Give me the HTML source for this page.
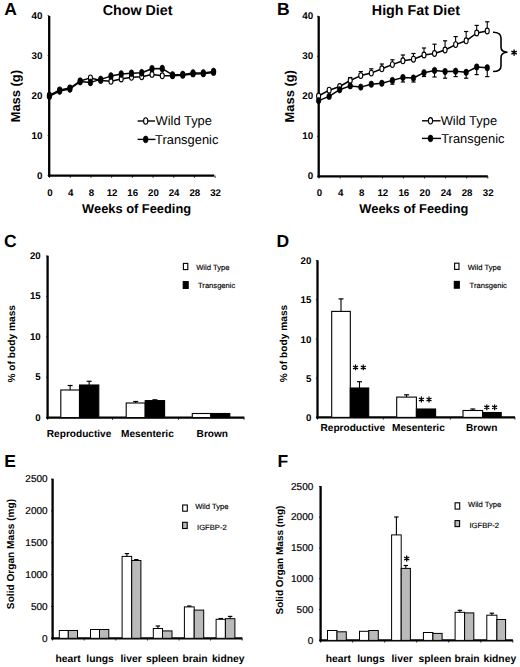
<!DOCTYPE html>
<html><head><meta charset="utf-8"><style>
html,body{margin:0;padding:0;background:#fff;width:520px;height:667px;overflow:hidden}
svg{display:block}
text{font-family:"Liberation Sans",sans-serif;fill:#000;text-rendering:geometricPrecision}
</style></head><body>
<svg width="520" height="667" viewBox="0 0 520 667">
<rect width="520" height="667" fill="#fff"/>
<line x1="49.20" y1="16.00" x2="49.20" y2="176.70" stroke="#000" stroke-width="2.3"/>
<line x1="48.10" y1="175.60" x2="214.30" y2="175.60" stroke="#000" stroke-width="2.3"/>
<line x1="47.60" y1="175.60" x2="49.20" y2="175.60" stroke="#000" stroke-width="0.8"/>
<text x="42.40" y="179.00" font-size="9.8" font-weight="bold" text-anchor="end" >0</text>
<line x1="47.60" y1="135.60" x2="49.20" y2="135.60" stroke="#000" stroke-width="0.8"/>
<text x="42.40" y="139.00" font-size="9.8" font-weight="bold" text-anchor="end" >10</text>
<line x1="47.60" y1="95.60" x2="49.20" y2="95.60" stroke="#000" stroke-width="0.8"/>
<text x="42.40" y="99.00" font-size="9.8" font-weight="bold" text-anchor="end" >20</text>
<line x1="47.60" y1="55.60" x2="49.20" y2="55.60" stroke="#000" stroke-width="0.8"/>
<text x="42.40" y="59.00" font-size="9.8" font-weight="bold" text-anchor="end" >30</text>
<line x1="47.60" y1="15.60" x2="49.20" y2="15.60" stroke="#000" stroke-width="0.8"/>
<text x="42.40" y="19.00" font-size="9.8" font-weight="bold" text-anchor="end" >40</text>
<line x1="49.60" y1="175.60" x2="49.60" y2="177.80" stroke="#000" stroke-width="0.8"/>
<text x="50.00" y="195.90" font-size="9.7" font-weight="bold" text-anchor="middle" >0</text>
<line x1="70.29" y1="175.60" x2="70.29" y2="177.80" stroke="#000" stroke-width="0.8"/>
<text x="70.69" y="195.90" font-size="9.7" font-weight="bold" text-anchor="middle" >4</text>
<line x1="90.98" y1="175.60" x2="90.98" y2="177.80" stroke="#000" stroke-width="0.8"/>
<text x="91.38" y="195.90" font-size="9.7" font-weight="bold" text-anchor="middle" >8</text>
<line x1="111.67" y1="175.60" x2="111.67" y2="177.80" stroke="#000" stroke-width="0.8"/>
<text x="112.07" y="195.90" font-size="9.7" font-weight="bold" text-anchor="middle" >12</text>
<line x1="132.36" y1="175.60" x2="132.36" y2="177.80" stroke="#000" stroke-width="0.8"/>
<text x="132.76" y="195.90" font-size="9.7" font-weight="bold" text-anchor="middle" >16</text>
<line x1="153.05" y1="175.60" x2="153.05" y2="177.80" stroke="#000" stroke-width="0.8"/>
<text x="153.45" y="195.90" font-size="9.7" font-weight="bold" text-anchor="middle" >20</text>
<line x1="173.74" y1="175.60" x2="173.74" y2="177.80" stroke="#000" stroke-width="0.8"/>
<text x="174.14" y="195.90" font-size="9.7" font-weight="bold" text-anchor="middle" >24</text>
<line x1="194.43" y1="175.60" x2="194.43" y2="177.80" stroke="#000" stroke-width="0.8"/>
<text x="194.83" y="195.90" font-size="9.7" font-weight="bold" text-anchor="middle" >28</text>
<line x1="215.12" y1="175.60" x2="215.12" y2="177.80" stroke="#000" stroke-width="0.8"/>
<text x="215.52" y="195.90" font-size="9.7" font-weight="bold" text-anchor="middle" >32</text>
<text x="136.60" y="212.80" font-size="12.85" font-weight="bold" text-anchor="middle" >Weeks of Feeding</text>
<text transform="translate(20.3,96.2) rotate(-90)" font-size="12.9" font-weight="bold" text-anchor="middle">Mass (g)</text>
<text x="137.60" y="15.00" font-size="14.3" font-weight="bold" text-anchor="middle" >Chow Diet</text>
<text x="4.30" y="15.40" font-size="17.5" font-weight="bold" text-anchor="start" >A</text>
<polyline points="49.40,95.30 59.66,89.90 69.92,88.00 80.18,81.00 90.44,77.90 100.70,80.40 110.96,81.30 121.22,79.00 131.48,77.30 141.74,76.70 152.00,74.40 162.26,75.80 172.52,75.70 182.78,75.30 193.04,73.90 203.30,73.80 213.56,72.40" fill="none" stroke="#000" stroke-width="1.5" stroke-linejoin="round"/>
<polyline points="49.40,96.30 59.66,91.00 69.92,88.90 80.18,81.60 90.44,82.40 100.70,79.40 110.96,76.10 121.22,74.10 131.48,73.30 141.74,72.70 152.00,68.70 162.26,68.60 172.52,74.90 182.78,74.50 193.04,73.00 203.30,72.90 213.56,71.50" fill="none" stroke="#000" stroke-width="1.5" stroke-linejoin="round"/>
<ellipse cx="49.40" cy="95.30" rx="2.0" ry="2.9" fill="#fff" stroke="#000" stroke-width="1.1"/>
<ellipse cx="59.66" cy="89.90" rx="2.0" ry="2.9" fill="#fff" stroke="#000" stroke-width="1.1"/>
<ellipse cx="69.92" cy="88.00" rx="2.0" ry="2.9" fill="#fff" stroke="#000" stroke-width="1.1"/>
<ellipse cx="80.18" cy="81.00" rx="2.0" ry="2.9" fill="#fff" stroke="#000" stroke-width="1.1"/>
<ellipse cx="90.44" cy="77.90" rx="2.0" ry="2.9" fill="#fff" stroke="#000" stroke-width="1.1"/>
<ellipse cx="100.70" cy="80.40" rx="2.0" ry="2.9" fill="#fff" stroke="#000" stroke-width="1.1"/>
<ellipse cx="110.96" cy="81.30" rx="2.0" ry="2.9" fill="#fff" stroke="#000" stroke-width="1.1"/>
<ellipse cx="121.22" cy="79.00" rx="2.0" ry="2.9" fill="#fff" stroke="#000" stroke-width="1.1"/>
<ellipse cx="131.48" cy="77.30" rx="2.0" ry="2.9" fill="#fff" stroke="#000" stroke-width="1.1"/>
<ellipse cx="141.74" cy="76.70" rx="2.0" ry="2.9" fill="#fff" stroke="#000" stroke-width="1.1"/>
<ellipse cx="152.00" cy="74.40" rx="2.0" ry="2.9" fill="#fff" stroke="#000" stroke-width="1.1"/>
<ellipse cx="162.26" cy="75.80" rx="2.0" ry="2.9" fill="#fff" stroke="#000" stroke-width="1.1"/>
<ellipse cx="172.52" cy="75.70" rx="2.0" ry="2.9" fill="#fff" stroke="#000" stroke-width="1.1"/>
<ellipse cx="182.78" cy="75.30" rx="2.0" ry="2.9" fill="#fff" stroke="#000" stroke-width="1.1"/>
<ellipse cx="193.04" cy="73.90" rx="2.0" ry="2.9" fill="#fff" stroke="#000" stroke-width="1.1"/>
<ellipse cx="203.30" cy="73.80" rx="2.0" ry="2.9" fill="#fff" stroke="#000" stroke-width="1.1"/>
<ellipse cx="213.56" cy="72.40" rx="2.0" ry="2.9" fill="#fff" stroke="#000" stroke-width="1.1"/>
<ellipse cx="49.40" cy="96.30" rx="2.3" ry="3.5" fill="#000" stroke="#000" stroke-width="0.6"/>
<ellipse cx="59.66" cy="91.00" rx="2.3" ry="3.5" fill="#000" stroke="#000" stroke-width="0.6"/>
<ellipse cx="69.92" cy="88.90" rx="2.3" ry="3.5" fill="#000" stroke="#000" stroke-width="0.6"/>
<ellipse cx="80.18" cy="81.60" rx="2.3" ry="3.5" fill="#000" stroke="#000" stroke-width="0.6"/>
<ellipse cx="90.44" cy="82.40" rx="2.3" ry="3.5" fill="#000" stroke="#000" stroke-width="0.6"/>
<ellipse cx="100.70" cy="79.40" rx="2.3" ry="3.5" fill="#000" stroke="#000" stroke-width="0.6"/>
<ellipse cx="110.96" cy="76.10" rx="2.3" ry="3.5" fill="#000" stroke="#000" stroke-width="0.6"/>
<ellipse cx="121.22" cy="74.10" rx="2.3" ry="3.5" fill="#000" stroke="#000" stroke-width="0.6"/>
<ellipse cx="131.48" cy="73.30" rx="2.3" ry="3.5" fill="#000" stroke="#000" stroke-width="0.6"/>
<ellipse cx="141.74" cy="72.70" rx="2.3" ry="3.5" fill="#000" stroke="#000" stroke-width="0.6"/>
<ellipse cx="152.00" cy="68.70" rx="2.3" ry="3.5" fill="#000" stroke="#000" stroke-width="0.6"/>
<ellipse cx="162.26" cy="68.60" rx="2.3" ry="3.5" fill="#000" stroke="#000" stroke-width="0.6"/>
<ellipse cx="172.52" cy="74.90" rx="2.3" ry="3.5" fill="#000" stroke="#000" stroke-width="0.6"/>
<ellipse cx="182.78" cy="74.50" rx="2.3" ry="3.5" fill="#000" stroke="#000" stroke-width="0.6"/>
<ellipse cx="193.04" cy="73.00" rx="2.3" ry="3.5" fill="#000" stroke="#000" stroke-width="0.6"/>
<ellipse cx="203.30" cy="72.90" rx="2.3" ry="3.5" fill="#000" stroke="#000" stroke-width="0.6"/>
<ellipse cx="213.56" cy="71.50" rx="2.3" ry="3.5" fill="#000" stroke="#000" stroke-width="0.6"/>
<line x1="137.60" y1="121.00" x2="155.00" y2="121.00" stroke="#000" stroke-width="1.4"/>
<ellipse cx="145.70" cy="121.00" rx="2.1" ry="3.2" fill="#fff" stroke="#000" stroke-width="1.1"/>
<text x="155.60" y="125.40" font-size="12.9" font-weight="normal" text-anchor="start" >Wild Type</text>
<line x1="137.60" y1="139.40" x2="155.50" y2="139.40" stroke="#000" stroke-width="1.4"/>
<ellipse cx="145.70" cy="139.40" rx="2.4" ry="3.4" fill="#000" stroke="#000" stroke-width="0.6"/>
<text x="155.10" y="143.70" font-size="12.9" font-weight="normal" text-anchor="start" >Transgenic</text>
<line x1="318.70" y1="16.20" x2="318.70" y2="177.40" stroke="#000" stroke-width="2.3"/>
<line x1="317.60" y1="176.30" x2="487.80" y2="176.30" stroke="#000" stroke-width="2.3"/>
<line x1="317.10" y1="176.30" x2="318.70" y2="176.30" stroke="#000" stroke-width="0.8"/>
<text x="313.20" y="178.90" font-size="9.8" font-weight="bold" text-anchor="end" >0</text>
<line x1="317.10" y1="136.30" x2="318.70" y2="136.30" stroke="#000" stroke-width="0.8"/>
<text x="313.20" y="138.90" font-size="9.8" font-weight="bold" text-anchor="end" >10</text>
<line x1="317.10" y1="96.30" x2="318.70" y2="96.30" stroke="#000" stroke-width="0.8"/>
<text x="313.20" y="98.90" font-size="9.8" font-weight="bold" text-anchor="end" >20</text>
<line x1="317.10" y1="56.30" x2="318.70" y2="56.30" stroke="#000" stroke-width="0.8"/>
<text x="313.20" y="58.90" font-size="9.8" font-weight="bold" text-anchor="end" >30</text>
<line x1="317.10" y1="16.30" x2="318.70" y2="16.30" stroke="#000" stroke-width="0.8"/>
<text x="313.20" y="18.90" font-size="9.8" font-weight="bold" text-anchor="end" >40</text>
<line x1="319.10" y1="176.30" x2="319.10" y2="178.50" stroke="#000" stroke-width="0.8"/>
<text x="319.50" y="196.00" font-size="9.7" font-weight="bold" text-anchor="middle" >0</text>
<line x1="340.19" y1="176.30" x2="340.19" y2="178.50" stroke="#000" stroke-width="0.8"/>
<text x="340.59" y="196.00" font-size="9.7" font-weight="bold" text-anchor="middle" >4</text>
<line x1="361.28" y1="176.30" x2="361.28" y2="178.50" stroke="#000" stroke-width="0.8"/>
<text x="361.68" y="196.00" font-size="9.7" font-weight="bold" text-anchor="middle" >8</text>
<line x1="382.37" y1="176.30" x2="382.37" y2="178.50" stroke="#000" stroke-width="0.8"/>
<text x="382.77" y="196.00" font-size="9.7" font-weight="bold" text-anchor="middle" >12</text>
<line x1="403.46" y1="176.30" x2="403.46" y2="178.50" stroke="#000" stroke-width="0.8"/>
<text x="403.86" y="196.00" font-size="9.7" font-weight="bold" text-anchor="middle" >16</text>
<line x1="424.55" y1="176.30" x2="424.55" y2="178.50" stroke="#000" stroke-width="0.8"/>
<text x="424.95" y="196.00" font-size="9.7" font-weight="bold" text-anchor="middle" >20</text>
<line x1="445.64" y1="176.30" x2="445.64" y2="178.50" stroke="#000" stroke-width="0.8"/>
<text x="446.04" y="196.00" font-size="9.7" font-weight="bold" text-anchor="middle" >24</text>
<line x1="466.73" y1="176.30" x2="466.73" y2="178.50" stroke="#000" stroke-width="0.8"/>
<text x="467.13" y="196.00" font-size="9.7" font-weight="bold" text-anchor="middle" >28</text>
<line x1="487.82" y1="176.30" x2="487.82" y2="178.50" stroke="#000" stroke-width="0.8"/>
<text x="488.22" y="196.00" font-size="9.7" font-weight="bold" text-anchor="middle" >32</text>
<text x="413.85" y="213.00" font-size="12.85" font-weight="bold" text-anchor="middle" >Weeks of Feeding</text>
<text transform="translate(294,96.3) rotate(-90)" font-size="12.9" font-weight="bold" text-anchor="middle">Mass (g)</text>
<text x="415.90" y="14.80" font-size="14.3" font-weight="bold" text-anchor="middle" >High Fat Diet</text>
<text x="276.90" y="15.40" font-size="17.5" font-weight="bold" text-anchor="start" >B</text>
<line x1="350.22" y1="77.50" x2="350.22" y2="80.50" stroke="#000" stroke-width="1.1"/>
<line x1="348.12" y1="77.50" x2="352.32" y2="77.50" stroke="#000" stroke-width="1.2"/>
<line x1="360.76" y1="71.60" x2="360.76" y2="75.60" stroke="#000" stroke-width="1.1"/>
<line x1="358.66" y1="71.60" x2="362.86" y2="71.60" stroke="#000" stroke-width="1.2"/>
<line x1="371.30" y1="68.80" x2="371.30" y2="73.10" stroke="#000" stroke-width="1.1"/>
<line x1="369.20" y1="68.80" x2="373.40" y2="68.80" stroke="#000" stroke-width="1.2"/>
<line x1="381.84" y1="64.00" x2="381.84" y2="68.80" stroke="#000" stroke-width="1.1"/>
<line x1="379.74" y1="64.00" x2="383.94" y2="64.00" stroke="#000" stroke-width="1.2"/>
<line x1="392.38" y1="59.80" x2="392.38" y2="64.60" stroke="#000" stroke-width="1.1"/>
<line x1="390.28" y1="59.80" x2="394.48" y2="59.80" stroke="#000" stroke-width="1.2"/>
<line x1="402.92" y1="55.00" x2="402.92" y2="60.80" stroke="#000" stroke-width="1.1"/>
<line x1="400.82" y1="55.00" x2="405.02" y2="55.00" stroke="#000" stroke-width="1.2"/>
<line x1="413.46" y1="53.50" x2="413.46" y2="59.20" stroke="#000" stroke-width="1.1"/>
<line x1="411.36" y1="53.50" x2="415.56" y2="53.50" stroke="#000" stroke-width="1.2"/>
<line x1="424.00" y1="48.00" x2="424.00" y2="55.00" stroke="#000" stroke-width="1.1"/>
<line x1="421.90" y1="48.00" x2="426.10" y2="48.00" stroke="#000" stroke-width="1.2"/>
<line x1="434.54" y1="44.20" x2="434.54" y2="53.50" stroke="#000" stroke-width="1.1"/>
<line x1="432.44" y1="44.20" x2="436.64" y2="44.20" stroke="#000" stroke-width="1.2"/>
<line x1="445.08" y1="40.80" x2="445.08" y2="50.00" stroke="#000" stroke-width="1.1"/>
<line x1="442.98" y1="40.80" x2="447.18" y2="40.80" stroke="#000" stroke-width="1.2"/>
<line x1="455.62" y1="36.60" x2="455.62" y2="44.60" stroke="#000" stroke-width="1.1"/>
<line x1="453.52" y1="36.60" x2="457.72" y2="36.60" stroke="#000" stroke-width="1.2"/>
<line x1="466.16" y1="31.50" x2="466.16" y2="40.80" stroke="#000" stroke-width="1.1"/>
<line x1="464.06" y1="31.50" x2="468.26" y2="31.50" stroke="#000" stroke-width="1.2"/>
<line x1="476.70" y1="25.40" x2="476.70" y2="33.00" stroke="#000" stroke-width="1.1"/>
<line x1="474.60" y1="25.40" x2="478.80" y2="25.40" stroke="#000" stroke-width="1.2"/>
<line x1="487.24" y1="21.80" x2="487.24" y2="31.00" stroke="#000" stroke-width="1.1"/>
<line x1="485.14" y1="21.80" x2="489.34" y2="21.80" stroke="#000" stroke-width="1.2"/>
<line x1="392.38" y1="80.40" x2="392.38" y2="84.20" stroke="#000" stroke-width="1.1"/>
<line x1="390.28" y1="84.20" x2="394.48" y2="84.20" stroke="#000" stroke-width="1.2"/>
<line x1="402.92" y1="77.50" x2="402.92" y2="82.00" stroke="#000" stroke-width="1.1"/>
<line x1="400.82" y1="82.00" x2="405.02" y2="82.00" stroke="#000" stroke-width="1.2"/>
<line x1="413.46" y1="78.00" x2="413.46" y2="82.00" stroke="#000" stroke-width="1.1"/>
<line x1="411.36" y1="82.00" x2="415.56" y2="82.00" stroke="#000" stroke-width="1.2"/>
<line x1="424.00" y1="72.70" x2="424.00" y2="76.50" stroke="#000" stroke-width="1.1"/>
<line x1="421.90" y1="76.50" x2="426.10" y2="76.50" stroke="#000" stroke-width="1.2"/>
<line x1="434.54" y1="70.40" x2="434.54" y2="77.00" stroke="#000" stroke-width="1.1"/>
<line x1="432.44" y1="77.00" x2="436.64" y2="77.00" stroke="#000" stroke-width="1.2"/>
<line x1="445.08" y1="71.50" x2="445.08" y2="78.20" stroke="#000" stroke-width="1.1"/>
<line x1="442.98" y1="78.20" x2="447.18" y2="78.20" stroke="#000" stroke-width="1.2"/>
<line x1="455.62" y1="71.20" x2="455.62" y2="76.60" stroke="#000" stroke-width="1.1"/>
<line x1="453.52" y1="76.60" x2="457.72" y2="76.60" stroke="#000" stroke-width="1.2"/>
<line x1="466.16" y1="72.30" x2="466.16" y2="78.20" stroke="#000" stroke-width="1.1"/>
<line x1="464.06" y1="78.20" x2="468.26" y2="78.20" stroke="#000" stroke-width="1.2"/>
<line x1="476.70" y1="67.00" x2="476.70" y2="74.60" stroke="#000" stroke-width="1.1"/>
<line x1="474.60" y1="74.60" x2="478.80" y2="74.60" stroke="#000" stroke-width="1.2"/>
<line x1="487.24" y1="67.70" x2="487.24" y2="76.60" stroke="#000" stroke-width="1.1"/>
<line x1="485.14" y1="76.60" x2="489.34" y2="76.60" stroke="#000" stroke-width="1.2"/>
<polyline points="318.60,96.00 329.14,90.20 339.68,86.50 350.22,80.50 360.76,75.60 371.30,73.10 381.84,68.80 392.38,64.60 402.92,60.80 413.46,59.20 424.00,55.00 434.54,53.50 445.08,50.00 455.62,44.60 466.16,40.80 476.70,33.00 487.24,31.00" fill="none" stroke="#000" stroke-width="1.5" stroke-linejoin="round"/>
<polyline points="318.60,100.60 329.14,96.40 339.68,89.70 350.22,85.90 360.76,87.10 371.30,84.20 381.84,83.30 392.38,80.40 402.92,77.50 413.46,78.00 424.00,72.70 434.54,70.40 445.08,71.50 455.62,71.20 466.16,72.30 476.70,67.00 487.24,67.70" fill="none" stroke="#000" stroke-width="1.5" stroke-linejoin="round"/>
<ellipse cx="318.60" cy="96.00" rx="2.0" ry="2.9" fill="#fff" stroke="#000" stroke-width="1.1"/>
<ellipse cx="329.14" cy="90.20" rx="2.0" ry="2.9" fill="#fff" stroke="#000" stroke-width="1.1"/>
<ellipse cx="339.68" cy="86.50" rx="2.0" ry="2.9" fill="#fff" stroke="#000" stroke-width="1.1"/>
<ellipse cx="350.22" cy="80.50" rx="2.0" ry="2.9" fill="#fff" stroke="#000" stroke-width="1.1"/>
<ellipse cx="360.76" cy="75.60" rx="2.0" ry="2.9" fill="#fff" stroke="#000" stroke-width="1.1"/>
<ellipse cx="371.30" cy="73.10" rx="2.0" ry="2.9" fill="#fff" stroke="#000" stroke-width="1.1"/>
<ellipse cx="381.84" cy="68.80" rx="2.0" ry="2.9" fill="#fff" stroke="#000" stroke-width="1.1"/>
<ellipse cx="392.38" cy="64.60" rx="2.0" ry="2.9" fill="#fff" stroke="#000" stroke-width="1.1"/>
<ellipse cx="402.92" cy="60.80" rx="2.0" ry="2.9" fill="#fff" stroke="#000" stroke-width="1.1"/>
<ellipse cx="413.46" cy="59.20" rx="2.0" ry="2.9" fill="#fff" stroke="#000" stroke-width="1.1"/>
<ellipse cx="424.00" cy="55.00" rx="2.0" ry="2.9" fill="#fff" stroke="#000" stroke-width="1.1"/>
<ellipse cx="434.54" cy="53.50" rx="2.0" ry="2.9" fill="#fff" stroke="#000" stroke-width="1.1"/>
<ellipse cx="445.08" cy="50.00" rx="2.0" ry="2.9" fill="#fff" stroke="#000" stroke-width="1.1"/>
<ellipse cx="455.62" cy="44.60" rx="2.0" ry="2.9" fill="#fff" stroke="#000" stroke-width="1.1"/>
<ellipse cx="466.16" cy="40.80" rx="2.0" ry="2.9" fill="#fff" stroke="#000" stroke-width="1.1"/>
<ellipse cx="476.70" cy="33.00" rx="2.0" ry="2.9" fill="#fff" stroke="#000" stroke-width="1.1"/>
<ellipse cx="487.24" cy="31.00" rx="2.0" ry="2.9" fill="#fff" stroke="#000" stroke-width="1.1"/>
<ellipse cx="318.60" cy="100.60" rx="2.3" ry="3.2" fill="#000" stroke="#000" stroke-width="0.6"/>
<ellipse cx="329.14" cy="96.40" rx="2.3" ry="3.2" fill="#000" stroke="#000" stroke-width="0.6"/>
<ellipse cx="339.68" cy="89.70" rx="2.3" ry="3.2" fill="#000" stroke="#000" stroke-width="0.6"/>
<ellipse cx="350.22" cy="85.90" rx="2.3" ry="3.2" fill="#000" stroke="#000" stroke-width="0.6"/>
<ellipse cx="360.76" cy="87.10" rx="2.3" ry="3.2" fill="#000" stroke="#000" stroke-width="0.6"/>
<ellipse cx="371.30" cy="84.20" rx="2.3" ry="3.2" fill="#000" stroke="#000" stroke-width="0.6"/>
<ellipse cx="381.84" cy="83.30" rx="2.3" ry="3.2" fill="#000" stroke="#000" stroke-width="0.6"/>
<ellipse cx="392.38" cy="80.40" rx="2.3" ry="3.2" fill="#000" stroke="#000" stroke-width="0.6"/>
<ellipse cx="402.92" cy="77.50" rx="2.3" ry="3.2" fill="#000" stroke="#000" stroke-width="0.6"/>
<ellipse cx="413.46" cy="78.00" rx="2.3" ry="3.2" fill="#000" stroke="#000" stroke-width="0.6"/>
<ellipse cx="424.00" cy="72.70" rx="2.3" ry="3.2" fill="#000" stroke="#000" stroke-width="0.6"/>
<ellipse cx="434.54" cy="70.40" rx="2.3" ry="3.2" fill="#000" stroke="#000" stroke-width="0.6"/>
<ellipse cx="445.08" cy="71.50" rx="2.3" ry="3.2" fill="#000" stroke="#000" stroke-width="0.6"/>
<ellipse cx="455.62" cy="71.20" rx="2.3" ry="3.2" fill="#000" stroke="#000" stroke-width="0.6"/>
<ellipse cx="466.16" cy="72.30" rx="2.3" ry="3.2" fill="#000" stroke="#000" stroke-width="0.6"/>
<ellipse cx="476.70" cy="67.00" rx="2.3" ry="3.2" fill="#000" stroke="#000" stroke-width="0.6"/>
<ellipse cx="487.24" cy="67.70" rx="2.3" ry="3.2" fill="#000" stroke="#000" stroke-width="0.6"/>
<path d="M493,32.2 Q501,32.2 501,38 L501,47 Q501,52 507.5,52.2 Q501,52.4 501,57.5 L501,66 Q501,71.5 493,71.5" fill="none" stroke="#000" stroke-width="1.6"/>
<path d="M514.10,55.70L514.10,49.50M511.42,54.15L516.78,51.05M511.42,51.05L516.78,54.15" stroke="#000" stroke-width="1.4" fill="none"/>
<line x1="422.00" y1="120.80" x2="440.50" y2="120.80" stroke="#000" stroke-width="1.4"/>
<ellipse cx="430.50" cy="120.80" rx="2.1" ry="3.2" fill="#fff" stroke="#000" stroke-width="1.1"/>
<text x="440.70" y="124.80" font-size="12.9" font-weight="normal" text-anchor="start" >Wild Type</text>
<line x1="422.00" y1="138.40" x2="441.00" y2="138.40" stroke="#000" stroke-width="1.4"/>
<ellipse cx="430.50" cy="138.40" rx="2.4" ry="3.4" fill="#000" stroke="#000" stroke-width="0.6"/>
<text x="441.20" y="143.30" font-size="12.9" font-weight="normal" text-anchor="start" >Transgenic</text>
<line x1="47.60" y1="255.70" x2="47.60" y2="418.70" stroke="#000" stroke-width="2.3"/>
<line x1="46.50" y1="417.60" x2="244.30" y2="417.60" stroke="#000" stroke-width="2.3"/>
<line x1="46.00" y1="417.60" x2="47.60" y2="417.60" stroke="#000" stroke-width="0.8"/>
<text x="40.70" y="420.60" font-size="9.7" font-weight="bold" text-anchor="end" >0</text>
<line x1="46.00" y1="377.20" x2="47.60" y2="377.20" stroke="#000" stroke-width="0.8"/>
<text x="40.70" y="380.20" font-size="9.7" font-weight="bold" text-anchor="end" >5</text>
<line x1="46.00" y1="336.80" x2="47.60" y2="336.80" stroke="#000" stroke-width="0.8"/>
<text x="40.70" y="339.80" font-size="9.7" font-weight="bold" text-anchor="end" >10</text>
<line x1="46.00" y1="296.40" x2="47.60" y2="296.40" stroke="#000" stroke-width="0.8"/>
<text x="40.70" y="299.40" font-size="9.7" font-weight="bold" text-anchor="end" >15</text>
<line x1="46.00" y1="256.00" x2="47.60" y2="256.00" stroke="#000" stroke-width="0.8"/>
<text x="40.70" y="259.00" font-size="9.7" font-weight="bold" text-anchor="end" >20</text>
<line x1="47.60" y1="417.60" x2="47.60" y2="419.80" stroke="#000" stroke-width="0.8"/>
<line x1="112.50" y1="417.60" x2="112.50" y2="419.80" stroke="#000" stroke-width="0.8"/>
<line x1="178.50" y1="417.60" x2="178.50" y2="419.80" stroke="#000" stroke-width="0.8"/>
<line x1="244.00" y1="417.60" x2="244.00" y2="419.80" stroke="#000" stroke-width="0.8"/>
<text x="79.10" y="436.90" font-size="10.1" font-weight="bold" text-anchor="middle" >Reproductive</text>
<text x="147.40" y="436.90" font-size="10.1" font-weight="bold" text-anchor="middle" >Mesenteric</text>
<text x="212.30" y="436.90" font-size="10.1" font-weight="bold" text-anchor="middle" >Brown</text>
<text transform="translate(15.3,343.75) rotate(-90)" font-size="10.2" font-weight="bold" text-anchor="middle">% of body mass</text>
<text x="4.10" y="247.20" font-size="17.5" font-weight="bold" text-anchor="start" >C</text>
<rect x="60.80" y="390.00" width="18.70" height="27.60" fill="#fff" stroke="#000" stroke-width="1.1"/>
<line x1="70.15" y1="385.50" x2="70.15" y2="390.00" stroke="#000" stroke-width="1.1"/>
<line x1="67.65" y1="385.50" x2="72.65" y2="385.50" stroke="#000" stroke-width="1.2"/>
<rect x="79.50" y="385.00" width="19.30" height="32.60" fill="#000" stroke="#000" stroke-width="1.1"/>
<line x1="89.15" y1="381.30" x2="89.15" y2="385.00" stroke="#000" stroke-width="1.1"/>
<line x1="86.65" y1="381.30" x2="91.65" y2="381.30" stroke="#000" stroke-width="1.2"/>
<rect x="126.20" y="403.00" width="19.00" height="14.60" fill="#fff" stroke="#000" stroke-width="1.1"/>
<line x1="135.70" y1="401.50" x2="135.70" y2="403.00" stroke="#000" stroke-width="1.1"/>
<line x1="133.20" y1="401.50" x2="138.20" y2="401.50" stroke="#000" stroke-width="1.2"/>
<rect x="145.20" y="400.60" width="19.40" height="17.00" fill="#000" stroke="#000" stroke-width="1.1"/>
<line x1="154.90" y1="399.80" x2="154.90" y2="400.60" stroke="#000" stroke-width="1.1"/>
<line x1="152.40" y1="399.80" x2="157.40" y2="399.80" stroke="#000" stroke-width="1.2"/>
<rect x="192.30" y="413.50" width="18.50" height="4.10" fill="#fff" stroke="#000" stroke-width="1.1"/>
<rect x="210.80" y="413.50" width="19.00" height="4.10" fill="#000" stroke="#000" stroke-width="1.1"/>
<rect x="183.40" y="263.40" width="4.40" height="6.20" fill="#fff" stroke="#000" stroke-width="1.1"/>
<text x="196.20" y="269.80" font-size="7.6" font-weight="normal" text-anchor="start" stroke="#000" stroke-width="0.15">Wild Type</text>
<rect x="183.20" y="281.60" width="5.00" height="6.80" fill="#000" stroke="#000" stroke-width="1.1"/>
<text x="198.00" y="288.10" font-size="7.6" font-weight="normal" text-anchor="start" stroke="#000" stroke-width="0.15">Transgenic</text>
<line x1="317.50" y1="260.30" x2="317.50" y2="418.50" stroke="#000" stroke-width="2.3"/>
<line x1="316.40" y1="417.40" x2="515.00" y2="417.40" stroke="#000" stroke-width="2.3"/>
<line x1="315.90" y1="417.40" x2="317.50" y2="417.40" stroke="#000" stroke-width="0.8"/>
<text x="311.30" y="420.90" font-size="9.7" font-weight="bold" text-anchor="end" >0</text>
<line x1="315.90" y1="378.20" x2="317.50" y2="378.20" stroke="#000" stroke-width="0.8"/>
<text x="311.30" y="381.70" font-size="9.7" font-weight="bold" text-anchor="end" >5</text>
<line x1="315.90" y1="339.00" x2="317.50" y2="339.00" stroke="#000" stroke-width="0.8"/>
<text x="311.30" y="342.50" font-size="9.7" font-weight="bold" text-anchor="end" >10</text>
<line x1="315.90" y1="299.80" x2="317.50" y2="299.80" stroke="#000" stroke-width="0.8"/>
<text x="311.30" y="303.30" font-size="9.7" font-weight="bold" text-anchor="end" >15</text>
<line x1="315.90" y1="260.60" x2="317.50" y2="260.60" stroke="#000" stroke-width="0.8"/>
<text x="311.30" y="264.10" font-size="9.7" font-weight="bold" text-anchor="end" >20</text>
<line x1="317.50" y1="417.40" x2="317.50" y2="419.60" stroke="#000" stroke-width="0.8"/>
<line x1="383.30" y1="417.40" x2="383.30" y2="419.60" stroke="#000" stroke-width="0.8"/>
<line x1="450.30" y1="417.40" x2="450.30" y2="419.60" stroke="#000" stroke-width="0.8"/>
<line x1="515.00" y1="417.40" x2="515.00" y2="419.60" stroke="#000" stroke-width="0.8"/>
<text x="352.80" y="431.30" font-size="10.1" font-weight="bold" text-anchor="middle" >Reproductive</text>
<text x="418.40" y="431.30" font-size="10.1" font-weight="bold" text-anchor="middle" >Mesenteric</text>
<text x="481.70" y="431.30" font-size="10.1" font-weight="bold" text-anchor="middle" >Brown</text>
<text transform="translate(287.3,343.5) rotate(-90)" font-size="10.2" font-weight="bold" text-anchor="middle">% of body mass</text>
<text x="276.60" y="247.00" font-size="17.5" font-weight="bold" text-anchor="start" >D</text>
<rect x="331.70" y="311.40" width="18.60" height="106.00" fill="#fff" stroke="#000" stroke-width="1.1"/>
<line x1="341.00" y1="298.90" x2="341.00" y2="311.40" stroke="#000" stroke-width="1.1"/>
<line x1="338.50" y1="298.90" x2="343.50" y2="298.90" stroke="#000" stroke-width="1.2"/>
<rect x="350.30" y="388.00" width="18.40" height="29.40" fill="#000" stroke="#000" stroke-width="1.1"/>
<line x1="359.50" y1="381.70" x2="359.50" y2="388.00" stroke="#000" stroke-width="1.1"/>
<line x1="357.00" y1="381.70" x2="362.00" y2="381.70" stroke="#000" stroke-width="1.2"/>
<rect x="396.70" y="397.10" width="19.70" height="20.30" fill="#fff" stroke="#000" stroke-width="1.1"/>
<line x1="406.55" y1="394.80" x2="406.55" y2="397.10" stroke="#000" stroke-width="1.1"/>
<line x1="404.05" y1="394.80" x2="409.05" y2="394.80" stroke="#000" stroke-width="1.2"/>
<rect x="416.40" y="409.00" width="19.20" height="8.40" fill="#000" stroke="#000" stroke-width="1.1"/>
<rect x="463.00" y="410.50" width="19.60" height="6.90" fill="#fff" stroke="#000" stroke-width="1.1"/>
<line x1="472.80" y1="409.00" x2="472.80" y2="410.50" stroke="#000" stroke-width="1.1"/>
<line x1="470.30" y1="409.00" x2="475.30" y2="409.00" stroke="#000" stroke-width="1.2"/>
<rect x="482.60" y="412.50" width="18.60" height="4.90" fill="#000" stroke="#000" stroke-width="1.1"/>
<path d="M355.50,370.30L355.50,364.50M352.99,368.85L358.01,365.95M352.99,365.95L358.01,368.85" stroke="#000" stroke-width="1.25" fill="none"/>
<path d="M363.30,370.30L363.30,364.50M360.79,368.85L365.81,365.95M360.79,365.95L365.81,368.85" stroke="#000" stroke-width="1.25" fill="none"/>
<path d="M421.40,402.40L421.40,396.60M418.89,400.95L423.91,398.05M418.89,398.05L423.91,400.95" stroke="#000" stroke-width="1.25" fill="none"/>
<path d="M429.00,402.40L429.00,396.60M426.49,400.95L431.51,398.05M426.49,398.05L431.51,400.95" stroke="#000" stroke-width="1.25" fill="none"/>
<path d="M486.80,410.20L486.80,404.40M484.29,408.75L489.31,405.85M484.29,405.85L489.31,408.75" stroke="#000" stroke-width="1.25" fill="none"/>
<path d="M494.60,410.20L494.60,404.40M492.09,408.75L497.11,405.85M492.09,405.85L497.11,408.75" stroke="#000" stroke-width="1.25" fill="none"/>
<rect x="454.60" y="263.20" width="4.40" height="6.20" fill="#fff" stroke="#000" stroke-width="1.1"/>
<text x="467.70" y="269.80" font-size="7.6" font-weight="normal" text-anchor="start" stroke="#000" stroke-width="0.15">Wild Type</text>
<rect x="454.30" y="281.40" width="5.00" height="6.80" fill="#000" stroke="#000" stroke-width="1.1"/>
<text x="469.60" y="288.00" font-size="7.6" font-weight="normal" text-anchor="start" stroke="#000" stroke-width="0.15">Transgenic</text>
<line x1="52.60" y1="478.75" x2="52.60" y2="639.40" stroke="#000" stroke-width="2.3"/>
<line x1="51.50" y1="638.30" x2="242.30" y2="638.30" stroke="#000" stroke-width="2.3"/>
<line x1="51.00" y1="638.30" x2="52.60" y2="638.30" stroke="#000" stroke-width="0.8"/>
<text x="47.60" y="641.50" font-size="10" font-weight="normal" text-anchor="end" stroke="#000" stroke-width="0.2">0</text>
<line x1="51.00" y1="606.45" x2="52.60" y2="606.45" stroke="#000" stroke-width="0.8"/>
<text x="47.60" y="609.65" font-size="10" font-weight="normal" text-anchor="end" stroke="#000" stroke-width="0.2">500</text>
<line x1="51.00" y1="574.60" x2="52.60" y2="574.60" stroke="#000" stroke-width="0.8"/>
<text x="47.60" y="577.80" font-size="10" font-weight="normal" text-anchor="end" stroke="#000" stroke-width="0.2">1000</text>
<line x1="51.00" y1="542.75" x2="52.60" y2="542.75" stroke="#000" stroke-width="0.8"/>
<text x="47.60" y="545.95" font-size="10" font-weight="normal" text-anchor="end" stroke="#000" stroke-width="0.2">1500</text>
<line x1="51.00" y1="510.90" x2="52.60" y2="510.90" stroke="#000" stroke-width="0.8"/>
<text x="47.60" y="514.10" font-size="10" font-weight="normal" text-anchor="end" stroke="#000" stroke-width="0.2">2000</text>
<line x1="51.00" y1="479.05" x2="52.60" y2="479.05" stroke="#000" stroke-width="0.8"/>
<text x="47.60" y="482.25" font-size="10" font-weight="normal" text-anchor="end" stroke="#000" stroke-width="0.2">2500</text>
<line x1="52.60" y1="638.30" x2="52.60" y2="640.50" stroke="#000" stroke-width="0.8"/>
<line x1="84.20" y1="638.30" x2="84.20" y2="640.50" stroke="#000" stroke-width="0.8"/>
<line x1="115.80" y1="638.30" x2="115.80" y2="640.50" stroke="#000" stroke-width="0.8"/>
<line x1="147.40" y1="638.30" x2="147.40" y2="640.50" stroke="#000" stroke-width="0.8"/>
<line x1="179.00" y1="638.30" x2="179.00" y2="640.50" stroke="#000" stroke-width="0.8"/>
<line x1="210.60" y1="638.30" x2="210.60" y2="640.50" stroke="#000" stroke-width="0.8"/>
<line x1="242.20" y1="638.30" x2="242.20" y2="640.50" stroke="#000" stroke-width="0.8"/>
<text x="68.00" y="662.40" font-size="10.3" font-weight="bold" text-anchor="middle" >heart</text>
<text x="100.00" y="662.40" font-size="10.3" font-weight="bold" text-anchor="middle" >lungs</text>
<text x="131.10" y="662.40" font-size="10.3" font-weight="bold" text-anchor="middle" >liver</text>
<text x="162.30" y="662.40" font-size="10.3" font-weight="bold" text-anchor="middle" >spleen</text>
<text x="195.00" y="662.40" font-size="10.3" font-weight="bold" text-anchor="middle" >brain</text>
<text x="228.20" y="662.40" font-size="10.3" font-weight="bold" text-anchor="middle" >kidney</text>
<text transform="translate(14.4,554) rotate(-90)" font-size="10.15" font-weight="bold" text-anchor="middle">Solid Organ Mass (mg)</text>
<text x="4.30" y="467.30" font-size="17.5" font-weight="bold" text-anchor="start" >E</text>
<rect x="59.30" y="630.50" width="9.00" height="7.80" fill="#fff" stroke="#000" stroke-width="1.0"/>
<rect x="68.30" y="630.50" width="9.20" height="7.80" fill="#bababa" stroke="#000" stroke-width="1.0"/>
<rect x="90.50" y="629.50" width="9.00" height="8.80" fill="#fff" stroke="#000" stroke-width="1.0"/>
<rect x="99.50" y="629.50" width="9.30" height="8.80" fill="#bababa" stroke="#000" stroke-width="1.0"/>
<rect x="122.10" y="556.40" width="9.60" height="81.90" fill="#fff" stroke="#000" stroke-width="1.0"/>
<line x1="126.90" y1="553.60" x2="126.90" y2="556.40" stroke="#000" stroke-width="1.1"/>
<line x1="124.70" y1="553.60" x2="129.10" y2="553.60" stroke="#000" stroke-width="1.2"/>
<rect x="131.70" y="560.50" width="9.20" height="77.80" fill="#bababa" stroke="#000" stroke-width="1.0"/>
<line x1="136.30" y1="559.60" x2="136.30" y2="560.50" stroke="#000" stroke-width="1.1"/>
<line x1="134.10" y1="559.60" x2="138.50" y2="559.60" stroke="#000" stroke-width="1.2"/>
<rect x="153.30" y="628.50" width="9.20" height="9.80" fill="#fff" stroke="#000" stroke-width="1.0"/>
<line x1="157.90" y1="626.00" x2="157.90" y2="628.50" stroke="#000" stroke-width="1.1"/>
<line x1="155.70" y1="626.00" x2="160.10" y2="626.00" stroke="#000" stroke-width="1.2"/>
<rect x="162.50" y="630.90" width="9.50" height="7.40" fill="#bababa" stroke="#000" stroke-width="1.0"/>
<rect x="184.40" y="606.90" width="9.80" height="31.40" fill="#fff" stroke="#000" stroke-width="1.0"/>
<line x1="189.30" y1="606.00" x2="189.30" y2="606.90" stroke="#000" stroke-width="1.1"/>
<line x1="187.10" y1="606.00" x2="191.50" y2="606.00" stroke="#000" stroke-width="1.2"/>
<rect x="194.20" y="610.10" width="9.50" height="28.20" fill="#bababa" stroke="#000" stroke-width="1.0"/>
<rect x="216.10" y="619.30" width="9.30" height="19.00" fill="#fff" stroke="#000" stroke-width="1.0"/>
<line x1="220.75" y1="618.50" x2="220.75" y2="619.30" stroke="#000" stroke-width="1.1"/>
<line x1="218.55" y1="618.50" x2="222.95" y2="618.50" stroke="#000" stroke-width="1.2"/>
<rect x="225.40" y="618.70" width="9.50" height="19.60" fill="#bababa" stroke="#000" stroke-width="1.0"/>
<line x1="230.15" y1="616.40" x2="230.15" y2="618.70" stroke="#000" stroke-width="1.1"/>
<line x1="227.95" y1="616.40" x2="232.35" y2="616.40" stroke="#000" stroke-width="1.2"/>
<rect x="182.70" y="505.00" width="4.60" height="6.20" fill="#fff" stroke="#000" stroke-width="1.1"/>
<text x="195.20" y="508.80" font-size="7.6" font-weight="normal" text-anchor="start" stroke="#000" stroke-width="0.15">Wild Type</text>
<rect x="182.60" y="522.30" width="4.60" height="6.20" fill="#bababa" stroke="#000" stroke-width="1.1"/>
<text x="197.10" y="529.80" font-size="7.6" font-weight="normal" text-anchor="start" stroke="#000" stroke-width="0.15">IGFBP-2</text>
<line x1="320.60" y1="486.10" x2="320.60" y2="641.50" stroke="#000" stroke-width="2.3"/>
<line x1="319.50" y1="640.40" x2="512.90" y2="640.40" stroke="#000" stroke-width="2.3"/>
<line x1="319.00" y1="640.40" x2="320.60" y2="640.40" stroke="#000" stroke-width="0.8"/>
<text x="313.30" y="643.60" font-size="10" font-weight="normal" text-anchor="end" stroke="#000" stroke-width="0.2">0</text>
<line x1="319.00" y1="609.60" x2="320.60" y2="609.60" stroke="#000" stroke-width="0.8"/>
<text x="313.30" y="612.80" font-size="10" font-weight="normal" text-anchor="end" stroke="#000" stroke-width="0.2">500</text>
<line x1="319.00" y1="578.80" x2="320.60" y2="578.80" stroke="#000" stroke-width="0.8"/>
<text x="313.30" y="582.00" font-size="10" font-weight="normal" text-anchor="end" stroke="#000" stroke-width="0.2">1000</text>
<line x1="319.00" y1="548.00" x2="320.60" y2="548.00" stroke="#000" stroke-width="0.8"/>
<text x="313.30" y="551.20" font-size="10" font-weight="normal" text-anchor="end" stroke="#000" stroke-width="0.2">1500</text>
<line x1="319.00" y1="517.20" x2="320.60" y2="517.20" stroke="#000" stroke-width="0.8"/>
<text x="313.30" y="520.40" font-size="10" font-weight="normal" text-anchor="end" stroke="#000" stroke-width="0.2">2000</text>
<line x1="319.00" y1="486.40" x2="320.60" y2="486.40" stroke="#000" stroke-width="0.8"/>
<text x="313.30" y="489.60" font-size="10" font-weight="normal" text-anchor="end" stroke="#000" stroke-width="0.2">2500</text>
<line x1="320.60" y1="640.40" x2="320.60" y2="642.60" stroke="#000" stroke-width="0.8"/>
<line x1="352.64" y1="640.40" x2="352.64" y2="642.60" stroke="#000" stroke-width="0.8"/>
<line x1="384.68" y1="640.40" x2="384.68" y2="642.60" stroke="#000" stroke-width="0.8"/>
<line x1="416.72" y1="640.40" x2="416.72" y2="642.60" stroke="#000" stroke-width="0.8"/>
<line x1="448.76" y1="640.40" x2="448.76" y2="642.60" stroke="#000" stroke-width="0.8"/>
<line x1="480.80" y1="640.40" x2="480.80" y2="642.60" stroke="#000" stroke-width="0.8"/>
<line x1="512.84" y1="640.40" x2="512.84" y2="642.60" stroke="#000" stroke-width="0.8"/>
<text x="338.40" y="661.60" font-size="10.3" font-weight="bold" text-anchor="middle" >heart</text>
<text x="370.90" y="661.60" font-size="10.3" font-weight="bold" text-anchor="middle" >lungs</text>
<text x="402.10" y="661.60" font-size="10.3" font-weight="bold" text-anchor="middle" >liver</text>
<text x="434.90" y="661.60" font-size="10.3" font-weight="bold" text-anchor="middle" >spleen</text>
<text x="467.00" y="661.60" font-size="10.3" font-weight="bold" text-anchor="middle" >brain</text>
<text x="499.80" y="661.60" font-size="10.3" font-weight="bold" text-anchor="middle" >kidney</text>
<text transform="translate(282.6,560) rotate(-90)" font-size="10.0" font-weight="bold" text-anchor="middle">Solid Organ Mass (mg)</text>
<text x="277.60" y="467.30" font-size="17.5" font-weight="bold" text-anchor="start" >F</text>
<rect x="327.50" y="630.50" width="9.50" height="9.90" fill="#fff" stroke="#000" stroke-width="1.0"/>
<rect x="337.00" y="631.80" width="9.30" height="8.60" fill="#bababa" stroke="#000" stroke-width="1.0"/>
<rect x="359.50" y="631.30" width="9.30" height="9.10" fill="#fff" stroke="#000" stroke-width="1.0"/>
<rect x="368.80" y="630.50" width="9.50" height="9.90" fill="#bababa" stroke="#000" stroke-width="1.0"/>
<rect x="391.60" y="534.90" width="9.60" height="105.50" fill="#fff" stroke="#000" stroke-width="1.0"/>
<line x1="396.40" y1="517.00" x2="396.40" y2="534.90" stroke="#000" stroke-width="1.1"/>
<line x1="394.20" y1="517.00" x2="398.60" y2="517.00" stroke="#000" stroke-width="1.2"/>
<rect x="401.20" y="568.40" width="9.20" height="72.00" fill="#bababa" stroke="#000" stroke-width="1.0"/>
<line x1="405.80" y1="565.50" x2="405.80" y2="568.40" stroke="#000" stroke-width="1.1"/>
<line x1="403.60" y1="565.50" x2="408.00" y2="565.50" stroke="#000" stroke-width="1.2"/>
<rect x="423.40" y="632.50" width="9.50" height="7.90" fill="#fff" stroke="#000" stroke-width="1.0"/>
<rect x="432.90" y="633.40" width="9.20" height="7.00" fill="#bababa" stroke="#000" stroke-width="1.0"/>
<rect x="455.10" y="612.30" width="9.50" height="28.10" fill="#fff" stroke="#000" stroke-width="1.0"/>
<line x1="459.85" y1="610.30" x2="459.85" y2="612.30" stroke="#000" stroke-width="1.1"/>
<line x1="457.65" y1="610.30" x2="462.05" y2="610.30" stroke="#000" stroke-width="1.2"/>
<rect x="464.60" y="612.90" width="9.20" height="27.50" fill="#bababa" stroke="#000" stroke-width="1.0"/>
<rect x="486.80" y="615.20" width="10.10" height="25.20" fill="#fff" stroke="#000" stroke-width="1.0"/>
<line x1="491.85" y1="613.20" x2="491.85" y2="615.20" stroke="#000" stroke-width="1.1"/>
<line x1="489.65" y1="613.20" x2="494.05" y2="613.20" stroke="#000" stroke-width="1.2"/>
<rect x="496.90" y="619.50" width="8.70" height="20.90" fill="#bababa" stroke="#000" stroke-width="1.0"/>
<path d="M406.70,561.50L406.70,555.50M404.10,560.00L409.30,557.00M404.10,557.00L409.30,560.00" stroke="#000" stroke-width="1.35" fill="none"/>
<rect x="455.10" y="502.80" width="4.60" height="6.30" fill="#fff" stroke="#000" stroke-width="1.1"/>
<text x="468.00" y="506.90" font-size="7.6" font-weight="normal" text-anchor="start" stroke="#000" stroke-width="0.15">Wild Type</text>
<rect x="455.00" y="520.60" width="4.60" height="6.00" fill="#bababa" stroke="#000" stroke-width="1.1"/>
<text x="469.50" y="527.60" font-size="7.6" font-weight="normal" text-anchor="start" stroke="#000" stroke-width="0.15">IGFBP-2</text>
</svg>
</body></html>
